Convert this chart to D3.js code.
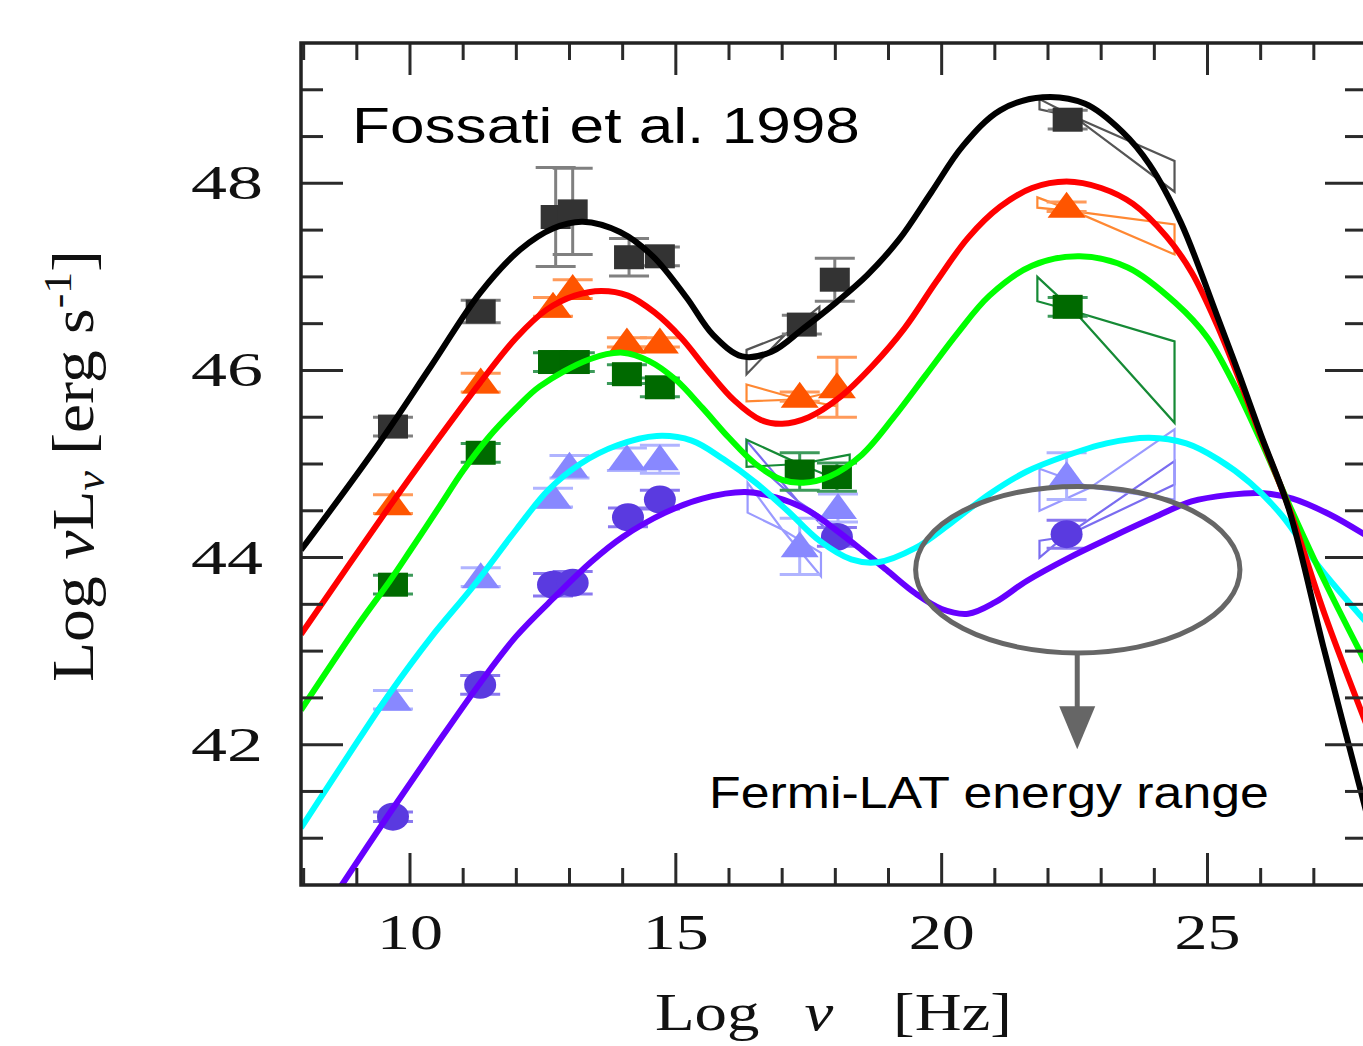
<!DOCTYPE html>
<html>
<head>
<meta charset="utf-8">
<script src="https://cdn.jsdelivr.net/npm/d3@7"></script>
<style>
  html, body { margin: 0; padding: 0; background: #fff; }
  svg { display: block; }
</style>
</head>
<body>
<svg id="chart" width="1363" height="1046"></svg>
<script>
// model curves, [log nu, log nuL_nu]
const curveBlack = [[7.95, 44.08], [9.38, 45.19], [10.4, 46.05], [11.32, 46.83], [12.07, 47.29], [12.7, 47.52], [13.25, 47.59], [13.95, 47.48], [14.57, 47.22], [15.2, 46.78], [15.7, 46.38], [16.25, 46.15], [16.8, 46.2], [17.4, 46.45], [18.0, 46.72], [18.6, 47.02], [19.2, 47.4], [19.8, 47.9], [20.4, 48.4], [21.1, 48.78], [21.9, 48.92], [22.7, 48.85], [23.4, 48.55], [23.91, 48.2], [24.5, 47.58], [25.17, 46.6], [25.6, 45.95], [26.0, 45.32], [26.54, 44.5], [27.2, 43.0], [28.0, 41.25]];
const curveRed = [[7.95, 43.18], [9.62, 44.55], [10.43, 45.19], [11.32, 45.87], [12.0, 46.35], [12.57, 46.65], [13.1, 46.8], [13.6, 46.85], [14.1, 46.8], [14.6, 46.62], [15.1, 46.35], [15.6, 46.0], [16.1, 45.68], [16.6, 45.47], [17.0, 45.43], [17.5, 45.5], [18.1, 45.72], [18.7, 46.05], [19.3, 46.45], [19.9, 46.95], [20.5, 47.42], [21.1, 47.75], [21.7, 47.95], [22.35, 48.02], [23.0, 47.95], [23.6, 47.78], [24.23, 47.43], [24.7, 47.05], [25.17, 46.5], [25.6, 45.9], [26.0, 45.3], [26.54, 44.52], [27.2, 43.4], [28.0, 42.2]];
const curveGreen = [[7.95, 42.37], [9.0, 43.26], [9.62, 43.75], [10.0, 44.07], [10.56, 44.55], [11.0, 44.93], [11.5, 45.3], [12.0, 45.6], [12.44, 45.83], [13.38, 46.12], [14.0, 46.19], [14.5, 46.1], [15.0, 45.9], [15.5, 45.6], [16.0, 45.28], [16.5, 45.0], [17.0, 44.83], [17.4, 44.8], [17.9, 44.87], [18.5, 45.1], [19.1, 45.5], [19.7, 45.95], [20.3, 46.4], [20.9, 46.8], [21.7, 47.12], [22.6, 47.22], [23.5, 47.1], [24.4, 46.72], [25.0, 46.35], [25.5, 45.85], [26.0, 45.25], [26.54, 44.56], [27.2, 43.75], [28.0, 42.85]];
const curveCyan = [[7.95, 41.11], [8.8, 41.85], [9.62, 42.55], [10.4, 43.15], [11.2, 43.7], [12.0, 44.3], [12.6, 44.72], [13.2, 45.0], [13.9, 45.2], [14.64, 45.3], [15.3, 45.25], [15.9, 45.05], [16.5, 44.8], [17.1, 44.5], [17.7, 44.18], [18.3, 43.98], [18.8, 43.95], [19.5, 44.1], [20.2, 44.38], [20.9, 44.68], [21.6, 44.92], [22.3, 45.08], [23.1, 45.22], [23.9, 45.28], [24.6, 45.22], [25.2, 45.05], [25.8, 44.8], [26.4, 44.45], [27.1, 43.9], [28.0, 43.3]];
const curvePurple = [[8.6, 40.4], [9.62, 41.27], [10.5, 42.0], [11.32, 42.66], [12.0, 43.16], [12.76, 43.6], [13.4, 43.95], [14.0, 44.22], [14.8, 44.48], [15.5, 44.63], [16.3, 44.7], [16.9, 44.64], [17.5, 44.5], [18.0, 44.3], [18.5, 44.08], [19.0, 43.85], [19.5, 43.62], [20.0, 43.45], [20.5, 43.4], [21.0, 43.52], [21.6, 43.75], [22.4, 44.0], [23.2, 44.22], [24.0, 44.43], [24.7, 44.6], [25.4, 44.67], [26.0, 44.69], [26.6, 44.63], [27.3, 44.46], [28.0, 44.23]];

// data points, [log nu, log nuL_nu, error]
const ptsBlack = [[9.68, 45.4, 0.1], [11.33, 46.63, 0.12], [12.74, 47.64, 0.53], [13.06, 47.7, 0.46], [14.12, 47.21, 0.2], [14.7, 47.22, 0.1], [17.37, 46.49, 0.1], [17.99, 46.97, 0.23], [22.37, 48.68, 0.1]];
const ptsOrange = [[9.68, 44.57, 0.1], [11.33, 45.87, 0.1], [12.69, 46.68, 0.1], [13.06, 46.87, 0.1], [14.08, 46.3, 0.05], [14.7, 46.3, 0.05], [17.33, 45.72, 0.05], [18.03, 45.82, 0.32], [22.35, 47.75, 0.05]];
const ptsGreen = [[9.68, 43.71, 0.1], [11.33, 45.12, 0.1], [12.69, 46.09, 0.1], [13.1, 46.09, 0.1], [14.08, 45.96, 0.1], [14.7, 45.82, 0.1], [17.33, 44.92, 0.2], [18.03, 44.86, 0.15], [22.37, 46.68, 0.1]];
const ptsBlue = [[9.68, 42.48, 0.1], [11.33, 43.79, 0.1], [12.69, 44.64, 0.1], [13.0, 44.97, 0.12], [14.08, 45.05, 0.12], [14.7, 45.05, 0.15], [17.33, 44.12, 0.3], [18.05, 44.53, 0.15], [22.35, 44.87, 0.25]];
const ptsPurple = [[9.68, 41.23, 0.05], [11.32, 42.64, 0.1], [12.69, 43.71, 0.12], [13.06, 43.73, 0.12], [14.1, 44.43, 0.1], [14.7, 44.62, 0.1], [18.03, 44.22, 0.1], [22.35, 44.25, 0.15]];

// spectral bow-ties: [xLeft, yLeftTop, yLeftBot, xPivot, yPivot, xRight, yRightTop, yRightBot]
const bowBlack = [[16.33, 46.22, 45.96, 17.05, 46.38, 17.7, 46.68, 46.57], [21.84, 48.9, 48.79, 22.5, 48.71, 24.38, 48.24, 47.91]];
const bowOrange = [[16.33, 45.85, 45.67, 17.33, 45.69, 18.0, 45.78, 45.62], [21.8, 47.85, 47.74, 22.5, 47.7, 24.38, 47.56, 47.24]];
const bowGreen = [[16.33, 45.26, 44.97, 17.33, 45.0, 18.27, 45.1, 44.78], [21.8, 47.0, 46.74, 22.5, 46.63, 24.38, 46.31, 45.44]];
const bowBlue = [[16.35, 44.8, 44.48, 17.0, 44.3, 17.73, 44.05, 43.8], [21.84, 44.95, 44.5, 22.8, 44.75, 24.38, 45.37, 44.62]];
const bowPurple = [[16.33, 45.25, 45.1, 17.3, 44.6, 18.1, 44.3, 44.15], [21.84, 44.18, 44.0, 22.3, 44.22, 24.38, 45.03, 44.78]];

const xMajor = [10, 15, 20, 25];
const yMajor = [42, 44, 46, 48];

// Fermi-LAT ellipse: centre, radii (data units) and the arrow below it
const fermiEllipse = [22.56, 43.87, 3.05, 0.89];
const fermiArrow = [22.55, 43.0, 41.95];

const svg = d3.select('#chart');
const x = d3.scaleLinear().domain([7.95, 28]).range([301, 1367]);
const y = d3.scaleLinear().domain([40.5, 49.5]).range([885, 43]);

const series = [
    { curve: curvePurple, line: '#6600ff', pts: ptsPurple, bows: bowPurple, fill: '#5a3ae0', err: '#8a78f0', bow: '#7a6cf0', marker: 'circle' },
    { curve: curveCyan, line: '#00ffff', pts: ptsBlue, bows: bowBlue, fill: '#8888ff', err: '#b0b4ff', bow: '#9a9aff', marker: 'triangle' },
    { curve: curveGreen, line: '#00ff00', pts: ptsGreen, bows: bowGreen, fill: '#006a00', err: '#3c9a5a', bow: '#158a35', marker: 'square' },
    { curve: curveRed, line: '#ff0000', pts: ptsOrange, bows: bowOrange, fill: '#ff5500', err: '#ff9a5a', bow: '#ff8833', marker: 'triangle' },
    { curve: curveBlack, line: '#000000', pts: ptsBlack, bows: bowBlack, fill: '#333333', err: '#808080', bow: '#555555', marker: 'square' }
];

svg.append('defs').append('clipPath').attr('id', 'plotClip')
    .append('rect')
    .attr('x', x.range()[0]).attr('y', y.range()[1])
    .attr('width', x.range()[1] - x.range()[0]).attr('height', y.range()[0] - y.range()[1]);

const plot = svg.append('g').attr('clip-path', 'url(#plotClip)');

// bow-ties
series.forEach(function (s) {
    plot.append('g').selectAll('path.bow').data(s.bows).enter()
        .append('path')
        .attr('class', 'bow')
        .attr('fill', 'none')
        .attr('stroke', s.bow)
        .attr('stroke-width', 2.2)
        .attr('d', function (b) {
            const p = [[b[0], b[1]], [b[3], b[4]], [b[5], b[6]], [b[5], b[7]], [b[3], b[4]], [b[0], b[2]]];
            return 'M' + p.map(function (q) { return x(q[0]) + ',' + y(q[1]); }).join('L') + 'Z';
        });
});

// error bars
const capHalf = 20;
series.forEach(function (s) {
    const g = plot.append('g').attr('stroke', s.err).attr('stroke-width', 3).attr('fill', 'none');
    s.pts.forEach(function (d) {
        const cx = x(d[0]);
        g.append('line').attr('x1', cx).attr('x2', cx).attr('y1', y(d[1] + d[2])).attr('y2', y(d[1] - d[2]));
        [d[1] + d[2], d[1] - d[2]].forEach(function (v) {
            g.append('line').attr('x1', cx - capHalf).attr('x2', cx + capHalf).attr('y1', y(v)).attr('y2', y(v));
        });
    });
});

// markers
series.forEach(function (s) {
    const g = plot.append('g').attr('fill', s.fill);
    s.pts.forEach(function (d) {
        const cx = x(d[0]), cy = y(d[1]);
        if (s.marker === 'square') {
            g.append('rect').attr('x', cx - 15).attr('y', cy - 12).attr('width', 30).attr('height', 24);
        } else if (s.marker === 'triangle') {
            g.append('path').attr('d', 'M' + (cx - 19) + ',' + (cy + 11) + 'L' + cx + ',' + (cy - 15) + 'L' + (cx + 19) + ',' + (cy + 11) + 'Z');
        } else {
            g.append('ellipse').attr('cx', cx).attr('cy', cy).attr('rx', 16).attr('ry', 14);
        }
    });
});

// model curves
const line = d3.line()
    .x(function (d) { return x(d[0]); })
    .y(function (d) { return y(d[1]); })
    .curve(d3.curveCatmullRom.alpha(0.5));

series.forEach(function (s) {
    plot.append('path')
        .datum(s.curve)
        .attr('fill', 'none')
        .attr('stroke', s.line)
        .attr('stroke-width', 6)
        .attr('stroke-linejoin', 'round')
        .attr('d', line);
});

// Fermi-LAT annotation
const ann = plot.append('g');
ann.append('ellipse')
    .attr('cx', x(fermiEllipse[0])).attr('cy', y(fermiEllipse[1]))
    .attr('rx', x(fermiEllipse[0] + fermiEllipse[2]) - x(fermiEllipse[0]))
    .attr('ry', y(fermiEllipse[1] - fermiEllipse[3]) - y(fermiEllipse[1]))
    .attr('fill', 'none').attr('stroke', '#666').attr('stroke-width', 5);
const ax = x(fermiArrow[0]);
ann.append('line')
    .attr('x1', ax).attr('x2', ax)
    .attr('y1', y(fermiArrow[1])).attr('y2', y(fermiArrow[2]) - 30)
    .attr('stroke', '#666').attr('stroke-width', 5);
ann.append('path')
    .attr('d', 'M' + (ax - 18) + ',' + (y(fermiArrow[2]) - 43) + 'L' + (ax + 18) + ',' + (y(fermiArrow[2]) - 43) + 'L' + ax + ',' + y(fermiArrow[2]) + 'Z')
    .attr('fill', '#666');

// frame and ticks
const x0 = x.range()[0], x1 = x.range()[1], yT = y.range()[1], yB = y.range()[0];
const ticks = svg.append('g').attr('stroke', '#2a2a2a').attr('stroke-width', 3);
d3.range(8, 28).forEach(function (v) {
    const len = xMajor.indexOf(v) >= 0 ? 32 : 17;
    ticks.append('line').attr('x1', x(v)).attr('x2', x(v)).attr('y1', yB).attr('y2', yB - len);
    ticks.append('line').attr('x1', x(v)).attr('x2', x(v)).attr('y1', yT).attr('y2', yT + len);
});
d3.range(41, 49.01, 0.5).forEach(function (v) {
    const len = yMajor.indexOf(v) >= 0 ? 42 : 22;
    ticks.append('line').attr('x1', x0).attr('x2', x0 + len).attr('y1', y(v)).attr('y2', y(v));
    ticks.append('line').attr('x1', x1).attr('x2', x1 - len).attr('y1', y(v)).attr('y2', y(v));
});
svg.append('rect')
    .attr('x', x0).attr('y', yT).attr('width', x1 - x0).attr('height', yB - yT)
    .attr('fill', 'none').attr('stroke', '#222').attr('stroke-width', 3.5);

// text helper: stretch a label horizontally to a target width
function fitText(px, py, rot, anchor, width, build) {
    const g = svg.append('g');
    const t = g.append('text').attr('text-anchor', anchor);
    build(t);
    const w = t.node().getBBox().width;
    g.attr('transform', 'translate(' + px + ',' + py + ') rotate(' + rot + ') scale(' + (width / w) + ',1)');
    return g;
}

const serif = 'Liberation Serif, Times New Roman, serif';
const sans = 'Liberation Sans, Arial, Helvetica, sans-serif';

yMajor.forEach(function (v) {
    fitText(263, y(v) + 16, 0, 'end', 72, function (t) {
        t.attr('font-family', serif).attr('font-size', 48).attr('fill', '#111').text(v);
    });
});
xMajor.forEach(function (v) {
    fitText(x(v), 949, 0, 'middle', 66, function (t) {
        t.attr('font-family', serif).attr('font-size', 51).attr('fill', '#111').text(v);
    });
});

fitText(655, 1030, 0, 'start', 357, function (t) {
    t.attr('font-family', serif).attr('font-size', 52).attr('fill', '#111');
    t.append('tspan').text('Log');
    t.append('tspan').attr('dx', 36).attr('font-style', 'italic').text('ν');
    t.append('tspan').attr('dx', 48).text('[Hz]');
});

fitText(93, 466, -90, 'middle', 432, function (t) {
    t.attr('font-family', serif).attr('font-size', 60).attr('fill', '#111');
    t.append('tspan').text('Log ');
    t.append('tspan').attr('font-style', 'italic').text('ν');
    t.append('tspan').text('L');
    t.append('tspan').attr('font-style', 'italic').attr('font-size', 40).attr('dy', 11).text('ν');
    t.append('tspan').attr('dy', -11).text(' [erg s');
    t.append('tspan').attr('font-size', 40).attr('dy', -22).text('-1');
    t.append('tspan').attr('dy', 22).text(']');
});

fitText(352, 143, 0, 'start', 508, function (t) {
    t.attr('font-family', sans).attr('font-size', 50).attr('fill', '#000').text('Fossati et al. 1998');
});
fitText(709, 808, 0, 'start', 560, function (t) {
    t.attr('font-family', sans).attr('font-size', 44).attr('fill', '#000').text('Fermi-LAT energy range');
});
</script>
</body>
</html>
